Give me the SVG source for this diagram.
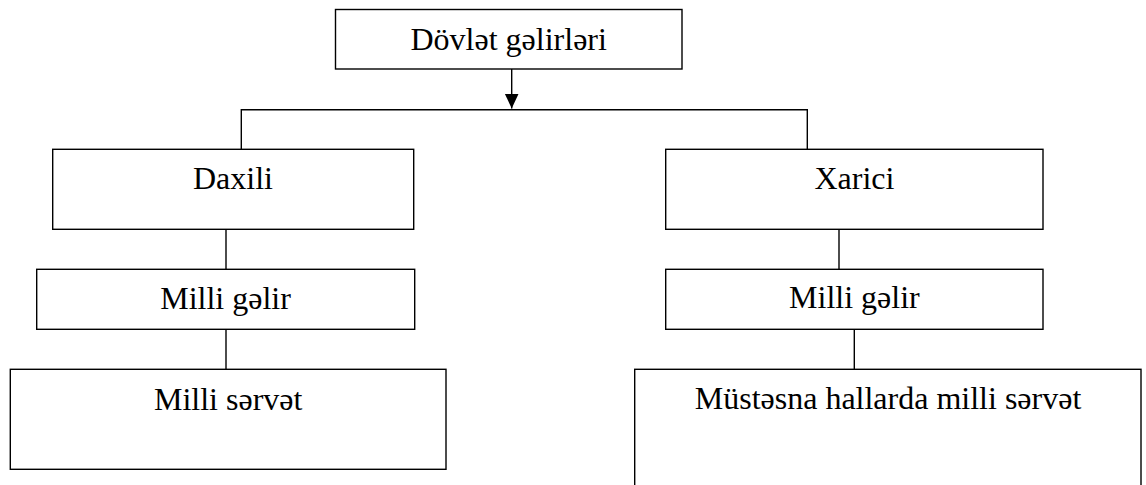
<svg xmlns="http://www.w3.org/2000/svg" width="1146" height="485" viewBox="0 0 1146 485">
<style>
.box{fill:#fff;stroke:#000;stroke-width:1.4}
.lbl{font-size:32px;fill:#000;text-anchor:middle}
.con{fill:none;stroke:#000;stroke-width:1.4}
</style>
<defs>
<marker id="arr" markerUnits="userSpaceOnUse" markerWidth="16" markerHeight="16" refX="15" refY="7" orient="auto">
<path d="M0,0 L15,7 L0,14 z" fill="#000"/>
</marker>
</defs>
<rect width="1146" height="485" fill="#fff"/>
<g id="connectors">
<line class="con" x1="511.7" y1="69" x2="511.7" y2="108.5" marker-end="url(#arr)" stroke-width="2"/>
<polyline class="con" points="241.3,149.3 241.3,109.7 807.3,109.7 807.3,149.3"/>
<line class="con" x1="226" y1="229.3" x2="226" y2="269.3"/>
<line class="con" x1="226" y1="329.3" x2="226" y2="369.3"/>
<line class="con" x1="839" y1="229.3" x2="839" y2="269.3"/>
<line class="con" x1="854.3" y1="329.3" x2="854.3" y2="369.3"/>
</g>
<g font-family="Liberation Serif, Times New Roman, serif">
<g id="n-top">
<rect class="box" x="335.5" y="9.5" width="346.5" height="59.5"/>
<text class="lbl" x="508.7" y="50">Dövlət gəlirləri</text>
</g>
<g id="n-daxili">
<rect class="box" x="52.7" y="149.3" width="361" height="80"/>
<text class="lbl" x="233" y="189">Daxili</text>
</g>
<g id="n-milligelir-l">
<rect class="box" x="36.7" y="269.3" width="378" height="60"/>
<text class="lbl" x="225.5" y="309">Milli gəlir</text>
</g>
<g id="n-milliservet">
<rect class="box" x="10.3" y="369.3" width="435.7" height="100"/>
<text class="lbl" x="228.2" y="410">Milli sərvət</text>
</g>
<g id="n-xarici">
<rect class="box" x="665.7" y="149.3" width="377.3" height="80"/>
<text class="lbl" x="854.4" y="189">Xarici</text>
</g>
<g id="n-milligelir-r">
<rect class="box" x="665.7" y="269.3" width="377.3" height="60"/>
<text class="lbl" x="854.4" y="308">Milli gəlir</text>
</g>
<g id="n-mustesna">
<rect class="box" x="634.7" y="369.3" width="506.3" height="130"/>
<text class="lbl" x="888" y="409">Müstəsna hallarda milli sərvət</text>
</g>
</g>
</svg>
